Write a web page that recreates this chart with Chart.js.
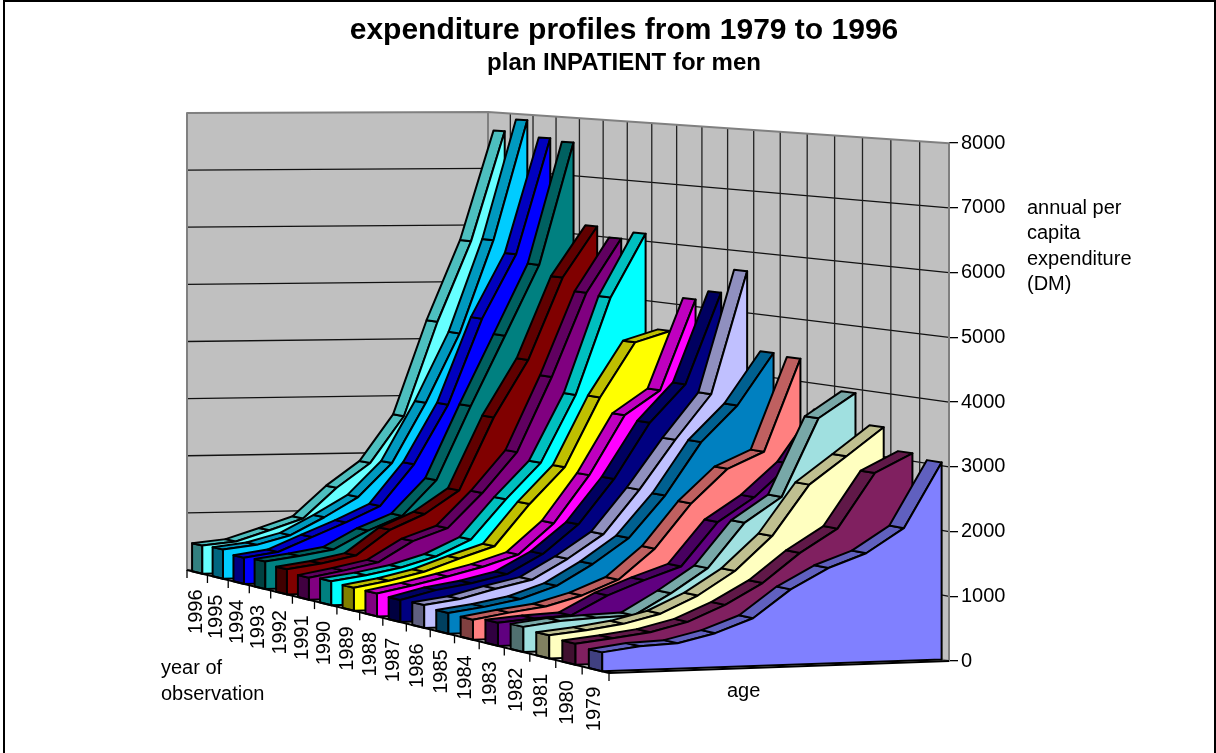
<!DOCTYPE html>
<html><head><meta charset="utf-8">
<script src="https://cdn.jsdelivr.net/npm/chart.js@4"></script>
<style>html,body{margin:0;padding:0;background:#fff}canvas{display:block}</style>
</head><body><canvas id="c" width="1216" height="753"></canvas>
<script>
const ages = ['1','2','3','4','5','6','7','8','9','10'];
const years = [1979,1980,1981,1982,1983,1984,1985,1986,1987,1988,1989,1990,1991,1992,1993,1994,1995,1996];
const v1979 = [290,365,390,525,735,1160,1470,1680,2050,3050];
const v1980 = [325,390,465,605,850,1170,1620,1980,2830,3120];
const v1981 = [360,420,500,640,905,1270,1800,2590,3020,3460];
const v1982 = [395,470,500,520,850,1230,1930,2320,3550,3935];
const v1983 = [365,415,445,745,970,1170,1860,2240,2760,3580];
const v1984 = [320,415,495,655,890,1370,2080,2620,2880,4365];
const v1985 = [335,415,525,720,1055,1460,2130,2980,3560,4400];
const v1986 = [370,450,600,730,1055,1440,2150,2950,3680,5680];
const v1987 = [360,505,600,735,1050,1520,2250,3160,3780,5280];
const v1988 = [375,490,625,770,955,1460,2240,3220,3620,5115];
const v1989 = [380,480,615,820,1010,1700,2300,3450,4360,4540];
const v1990 = [400,485,600,770,1040,1700,2300,3430,5060,6125];
const v1991 = [370,475,600,945,1150,1730,2410,3670,5090,6000];
const v1992 = [425,510,630,1055,1310,1700,2930,3900,5300,6165];
const v1993 = [470,550,650,960,1200,1800,3060,4260,5470,7570];
const v1994 = [450,535,780,1020,1290,2000,3020,4500,5610,7615];
const v1995 = [505,575,730,1030,1370,1950,2990,4190,5810,7900];
const v1996 = [490,550,735,930,1455,1880,2690,4340,5750,7680];
const seriesValues = [v1979,v1980,v1981,v1982,v1983,v1984,v1985,v1986,v1987,v1988,v1989,v1990,v1991,v1992,v1993,v1994,v1995,v1996];
const faceColors = ['#8080FF','#802060','#FFFFC0','#A0E0E0','#600080','#FF8080','#0080C0','#C0C0FF','#000080','#FF00FF','#FFFF00','#00FFFF','#800080','#800000','#008080','#0000FF','#00CCFF','#66FFFF'];
const yTicks = [0,1000,2000,3000,4000,5000,6000,7000,8000];
const yAxisTitle = ['annual per','capita','expenditure','(DM)'];
const zAxisTitle = ['year of','observation'];
const xAxisTitle = 'age';

const FONT = '"Liberation Sans", Arial, sans-serif';
// perspective floor: u along age, w from the front year to the rear year
const B=[609,673],C=[949,661],D=[488,564],A=[187,570];
const persp=1.155;
function floorPt(u,w){
  const t=persp*w/(1+(persp-1)*w);
  const lx=B[0]+(A[0]-B[0])*t, ly=B[1]+(A[1]-B[1])*t, rx=C[0]+(D[0]-C[0])*t, ry=C[1]+(D[1]-C[1])*t;
  return [lx+(rx-lx)*u, ly+(ry-ly)*u];
}
const hA=.001907,hB=.000024,hG=.000281;
function depthFactor(u,w){return (1/(hA+hB*u+hG*w))/518;}
function shade(hex,f){const n=parseInt(hex.slice(1),16);return 'rgb('+[(n>>16)&255,(n>>8)&255,n&255].map(c=>Math.round(c*f)).join(',')+')';}

const area3d={id:'area3d',
 beforeDatasetsDraw(chart){
  const ctx=chart.ctx, ys=chart.scales.y, xs=chart.scales.x;
  const y0=ys.getPixelForValue(0), n=years.length;
  const top=(u,w,v)=>{const p=floorPt(u,w);return [p[0],p[1]-(y0-ys.getPixelForValue(v))*depthFactor(u,w)];};
  const uOf=i=>(xs.getPixelForValue(i)-xs.left)/(xs.right-xs.left);
  const poly=(pts,fill,stroke,lw)=>{ctx.beginPath();pts.forEach((p,i)=>i?ctx.lineTo(p[0],p[1]):ctx.moveTo(p[0],p[1]));ctx.closePath();
    if(fill){ctx.fillStyle=fill;ctx.fill();} if(stroke){ctx.strokeStyle=stroke;ctx.lineWidth=lw;ctx.stroke();}};
  const line=(p,q,c,lw)=>{ctx.beginPath();ctx.moveTo(p[0],p[1]);ctx.lineTo(q[0],q[1]);ctx.strokeStyle=c;ctx.lineWidth=lw;ctx.stroke();};
  ctx.save();ctx.lineJoin='round';
  const vmax=ys.max;
  // walls
  poly([floorPt(0,1),top(0,1,vmax),top(1,1,vmax),floorPt(1,1)],'#C0C0C0');
  poly([floorPt(1,1),top(1,1,vmax),top(1,0,vmax),floorPt(1,0)],'#C0C0C0');
  yTicks.slice(1,-1).forEach(v=>{line(top(0,1,v),top(1,1,v),'#111',1.3);line(top(1,1,v),top(1,0,v),'#111',1.3);});
  for(let k=1;k<n;k++){line(floorPt(1,k/n),top(1,k/n,vmax),'#222',1.3);}
  poly([floorPt(0,1),top(0,1,vmax),top(1,1,vmax),floorPt(1,1)],null,'#808080',2);
  poly([floorPt(1,1),top(1,1,vmax),top(1,0,vmax),floorPt(1,0)],null,'#808080',2);
  // series, rear to front
  for(let j=n-1;j>=0;j--){
    const vals=chart.data.datasets[j].data, col=chart.data.datasets[j].backgroundColor;
    const wf=(j+.25)/n, wb=(j+.75)/n;
    poly([floorPt(0,wf),floorPt(0,wb),top(0,wb,vals[0]),top(0,wf,vals[0])],shade(col,.5),'#000',2);
    for(let i=0;i<vals.length-1;i++){
      const u1=uOf(i),u2=uOf(i+1);
      poly([top(u1,wf,vals[i]),top(u1,wb,vals[i]),top(u2,wb,vals[i+1]),top(u2,wf,vals[i+1])],shade(col,.75),'#000',2);
    }
    const face=[floorPt(0,wf)];
    vals.forEach((v,i)=>face.push(top(uOf(i),wf,v)));
    face.push(floorPt(1,wf));
    poly(face,col,'#000',2);
  }
  // floor edges, ticks, labels
  line(floorPt(0,1),floorPt(0,0),'#000',2);
  line(floorPt(0,0),floorPt(1,0),'#000',2);
  ctx.fillStyle='#000';ctx.font='20px '+FONT;
  for(let k=0;k<=n;k++){const p=floorPt(0,k/n);line(p,[p[0],p[1]+8],'#000',1.3);}
  ctx.fillStyle='#000';
  years.forEach((yr,j)=>{
    const p=floorPt(0,(j+.5)/n);
    ctx.save();ctx.translate(p[0]-1,p[1]+17);ctx.rotate(-Math.PI/2);
    ctx.textAlign='right';ctx.textBaseline='middle';ctx.fillText(String(yr),0,0);ctx.restore();
  });
  ctx.textAlign='left';ctx.textBaseline='alphabetic';
  yAxisTitle.forEach((t,i)=>ctx.fillText(t,1027,214+i*25.3));
  zAxisTitle.forEach((t,i)=>ctx.fillText(t,161,674+i*26));
  ctx.fillText(xAxisTitle,727,697);
  ctx.restore();
 },
 afterDraw(chart){
  const ctx=chart.ctx;ctx.save();ctx.strokeStyle='#000';ctx.lineWidth=2;
  ctx.strokeRect(4,1,1211,760);ctx.restore();
 }
};

new Chart(document.getElementById('c'),{
 type:'line',
 data:{labels:ages,datasets:years.map((y,j)=>({label:String(y),data:seriesValues[j],backgroundColor:faceColors[j],borderColor:'#000',showLine:false,pointRadius:0}))},
 plugins:[area3d],
 options:{
  responsive:false,animation:false,
  layout:{padding:{left:32,right:0,top:0,bottom:92}},
  plugins:{
   legend:{display:false},tooltip:{enabled:false},
   title:{display:true,text:'expenditure profiles from 1979 to 1996',color:'#000',font:{family:FONT,size:30,weight:'bold',lineHeight:1.2},padding:{top:13,bottom:0}},
   subtitle:{display:true,text:'plan INPATIENT for men',color:'#000',font:{family:FONT,size:24,weight:'bold',lineHeight:1.2},padding:{top:0,bottom:65.2}}
  },
  scales:{
   x:{type:'category',display:false,offset:false},
   y:{position:'right',min:0,max:8000,
      afterFit(s){s.width=268;},
      border:{display:true,color:'#000'},
      grid:{drawOnChartArea:false,drawTicks:true,tickLength:10,color:'#000',lineWidth:1.3},
      ticks:{stepSize:1000,color:'#000',padding:3,font:{family:FONT,size:20},callback:v=>String(v)}}
  }
 }
});
</script></body></html>
